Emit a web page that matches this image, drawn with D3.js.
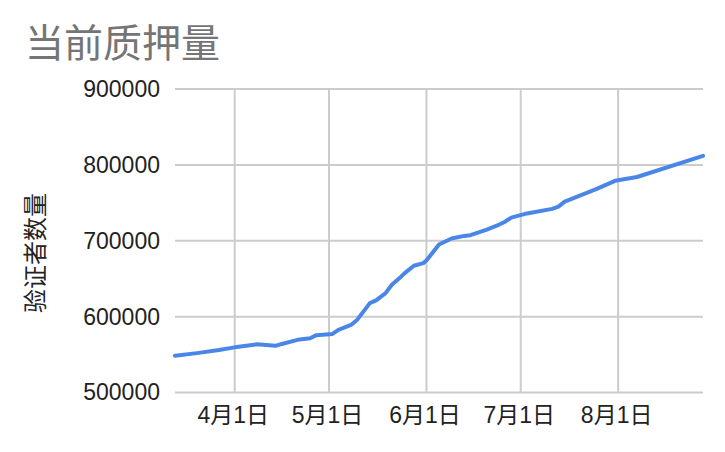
<!DOCTYPE html>
<html>
<head>
<meta charset="utf-8">
<script src="https://cdn.jsdelivr.net/npm/d3@7"></script>
<style>
  body { margin: 0; background: #fff; }
  text { font-family: "Liberation Sans", Arial, "Noto Sans CJK SC", sans-serif; }
</style>
</head>
<body>
<div id="chart"></div>
<script>
// Data
var dates = ["2023-03-13","2023-03-20","2023-03-27","2023-04-01","2023-04-08","2023-04-14",
  "2023-04-16","2023-04-21","2023-04-25","2023-04-27","2023-05-02","2023-05-04","2023-05-08",
  "2023-05-10","2023-05-14","2023-05-16","2023-05-19","2023-05-21","2023-05-24","2023-05-25",
  "2023-05-28","2023-05-31","2023-06-01","2023-06-05","2023-06-09","2023-06-13","2023-06-15",
  "2023-06-20","2023-06-24","2023-06-26","2023-06-28","2023-07-03","2023-07-11","2023-07-13",
  "2023-07-15","2023-07-25","2023-07-31","2023-08-07","2023-08-28"];
var validators = [548400, 551900, 556000, 559500, 563500, 561500,
  564000, 569400, 571500, 575600, 577000, 582600, 589000,
  596000, 617800, 621500, 631000, 642000, 653000, 657000,
  667000, 670500, 674000, 695000, 703000, 706400, 707300,
  714400, 721000, 725000, 730500, 736000, 742000, 745000,
  751600, 768000, 779000, 784000, 811800];
var yTicks = [500000, 600000, 700000, 800000, 900000];
var xTicks = ["2023-04-01", "2023-05-01", "2023-06-01", "2023-07-01", "2023-08-01"];
var xDomain = ["2023-03-13", "2023-08-28"];

var svgWidth = 725;
var svgHeight = 452;
var margin = { top: 89, right: 22, bottom: 59.5, left: 175 };
var width = svgWidth - margin.left - margin.right;
var height = svgHeight - margin.top - margin.bottom;

var parse = d3.timeParse("%Y-%m-%d");
var data = dates.map(function(d, i) { return { date: parse(d), value: validators[i] }; });

var svg = d3.select("#chart").append("svg")
  .attr("width", svgWidth)
  .attr("height", svgHeight);

var chartGroup = svg.append("g")
  .attr("transform", `translate(${margin.left}, ${margin.top})`);

var xScale = d3.scaleTime().domain(xDomain.map(parse)).range([0, width]);
var yScale = d3.scaleLinear().domain([500000, 900000]).range([height, 0]);

// Gridlines
chartGroup.selectAll(".hgrid")
  .data(yTicks)
  .enter().append("line")
  .attr("x1", 0).attr("x2", width)
  .attr("y1", d => yScale(d)).attr("y2", d => yScale(d))
  .attr("stroke", "#cccccc").attr("stroke-width", 2);

chartGroup.selectAll(".vgrid")
  .data(xTicks)
  .enter().append("line")
  .attr("x1", d => xScale(parse(d))).attr("x2", d => xScale(parse(d)))
  .attr("y1", 0).attr("y2", height)
  .attr("stroke", "#cccccc").attr("stroke-width", 2);

// Axes (labels only)
var leftAxis = d3.axisLeft(yScale).tickValues(yTicks).tickSize(0).tickPadding(15)
  .tickFormat(d3.format("d"));
var bottomAxis = d3.axisBottom(xScale).tickValues(xTicks.map(parse)).tickSize(0).tickPadding(14)
  .tickFormat(d => (d.getMonth() + 1) + "月" + d.getDate() + "日");

var yAxisG = chartGroup.append("g").call(leftAxis);
var xAxisG = chartGroup.append("g").attr("transform", `translate(0, ${height})`).call(bottomAxis);
[yAxisG, xAxisG].forEach(function(g) {
  g.select(".domain").remove();
  g.selectAll("text")
    .attr("fill", "#222222")
    .style("font-size", "23px")
    .style("font-family", "'Liberation Sans', Arial, 'Noto Sans CJK SC', sans-serif");
});
xAxisG.selectAll("text").attr("dx", "-2");

// Line
var line = d3.line().x(d => xScale(d.date)).y(d => yScale(d.value));
chartGroup.append("path")
  .datum(data)
  .attr("d", line)
  .attr("fill", "none")
  .attr("stroke", "#4a86e8")
  .attr("stroke-width", 4)
  .attr("stroke-linejoin", "round")
  .attr("stroke-linecap", "round");

// Title
svg.append("text")
  .attr("x", 25)
  .attr("y", 57)
  .attr("fill", "#757575")
  .style("font-size", "39px")
  .text("当前质押量");

// Y axis label
svg.append("text")
  .attr("transform", "translate(44, 253) rotate(-90)")
  .attr("text-anchor", "middle")
  .attr("fill", "#222222")
  .style("font-size", "24px")
  .text("验证者数量");
</script>
</body>
</html>
